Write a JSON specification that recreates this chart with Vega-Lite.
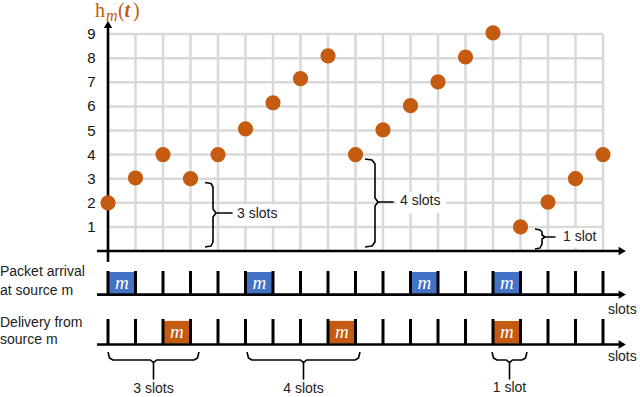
{
  "$schema": "https://vega.github.io/schema/vega-lite/v6.json",
  "width": 640,
  "height": 397,
  "autosize": "none",
  "padding": 0,
  "background": "white",
  "config": {"view": {"stroke": null}},
  "datasets": {
    "slots": [{"x":0},{"x":1},{"x":2},{"x":3},{"x":4},{"x":5},{"x":6},{"x":7},{"x":8},{"x":9},{"x":10},{"x":11},{"x":12},{"x":13},{"x":14},{"x":15},{"x":16},{"x":17},{"x":18}],
    "levels": [{"y":1},{"y":2},{"y":3},{"y":4},{"y":5},{"y":6},{"y":7},{"y":8},{"y":9}]
  },
  "layer": [
    {
      "data": {"name": "slots"},
      "mark": {"type": "rule", "color": "#D9D9D9", "strokeWidth": 2.5},
      "encoding": {
        "x": {"field": "x", "type": "quantitative", "scale": {"domain": [-3.927, 19.345], "nice": false, "zero": false}, "axis": null},
        "y": {"datum": 0, "type": "quantitative", "scale": {"domain": [-6.058, 10.415], "nice": false, "zero": false}, "axis": null},
        "y2": {"datum": 9}
      }
    },
    {
      "data": {"name": "levels"},
      "mark": {"type": "rule", "color": "#D9D9D9", "strokeWidth": 2.5},
      "encoding": {
        "x": {"datum": 0, "type": "quantitative", "scale": {"domain": [-3.927, 19.345], "nice": false, "zero": false}, "axis": null},
        "x2": {"datum": 18},
        "y": {"field": "y", "type": "quantitative", "scale": {"domain": [-6.058, 10.415], "nice": false, "zero": false}, "axis": null}
      }
    },
    {
      "data": {"values": [
        {"x": 4.545, "x2": 6.618, "y": 1.93, "y2": 1.06},
        {"x": 10.473, "x2": 12.29, "y": 2.45, "y2": 1.58},
        {"x": 16.36, "x2": 17.9, "y": 0.95, "y2": 0.15}
      ]},
      "mark": {"type": "rect", "fill": "white"},
      "encoding": {
        "x": {"field": "x", "type": "quantitative", "scale": {"domain": [-3.927, 19.345], "nice": false, "zero": false}, "axis": null},
        "x2": {"field": "x2"},
        "y": {"field": "y", "type": "quantitative", "scale": {"domain": [-6.058, 10.415], "nice": false, "zero": false}, "axis": null},
        "y2": {"field": "y2"}
      }
    },
    {
      "data": {"values": [
        {"id":"a","i":0,"x":3.527,"y":2.842},{"id":"a","i":1,"x":3.745,"y":2.801},{"id":"a","i":2,"x":3.818,"y":2.656},{"id":"a","i":3,"x":3.818,"y":1.743},{"id":"a","i":4,"x":3.927,"y":1.577},{"id":"a","i":5,"x":4.509,"y":1.577},{"id":"a","i":6,"x":3.927,"y":1.577},{"id":"a","i":7,"x":3.818,"y":1.411},{"id":"a","i":8,"x":3.818,"y":0.373},{"id":"a","i":9,"x":3.745,"y":0.207},{"id":"a","i":10,"x":3.527,"y":0.166},
        {"id":"b","i":0,"x":9.345,"y":3.817},{"id":"b","i":1,"x":9.6,"y":3.776},{"id":"b","i":2,"x":9.709,"y":3.61},{"id":"b","i":3,"x":9.709,"y":2.199},{"id":"b","i":4,"x":9.818,"y":2.033},{"id":"b","i":5,"x":10.364,"y":2.033},{"id":"b","i":6,"x":9.818,"y":2.033},{"id":"b","i":7,"x":9.709,"y":1.867},{"id":"b","i":8,"x":9.709,"y":0.373},{"id":"b","i":9,"x":9.6,"y":0.207},{"id":"b","i":10,"x":9.345,"y":0.166},
        {"id":"c","i":0,"x":15.527,"y":0.913},{"id":"c","i":1,"x":15.709,"y":0.871},{"id":"c","i":2,"x":15.782,"y":0.788},{"id":"c","i":3,"x":15.782,"y":0.664},{"id":"c","i":4,"x":15.891,"y":0.581},{"id":"c","i":5,"x":16.255,"y":0.581},{"id":"c","i":6,"x":15.891,"y":0.581},{"id":"c","i":7,"x":15.782,"y":0.498},{"id":"c","i":8,"x":15.782,"y":0.29},{"id":"c","i":9,"x":15.709,"y":0.124},{"id":"c","i":10,"x":15.527,"y":0.083},
        {"id":"d","i":0,"x":0,"y":-4.191},{"id":"d","i":1,"x":0.055,"y":-4.44},{"id":"d","i":2,"x":0.182,"y":-4.523},{"id":"d","i":3,"x":1.545,"y":-4.523},{"id":"d","i":4,"x":1.655,"y":-4.627},{"id":"d","i":5,"x":1.655,"y":-5.311},{"id":"d","i":6,"x":1.655,"y":-4.627},{"id":"d","i":7,"x":1.764,"y":-4.523},{"id":"d","i":8,"x":3.127,"y":-4.523},{"id":"d","i":9,"x":3.255,"y":-4.44},{"id":"d","i":10,"x":3.309,"y":-4.191},
        {"id":"e","i":0,"x":5.055,"y":-4.191},{"id":"e","i":1,"x":5.109,"y":-4.44},{"id":"e","i":2,"x":5.236,"y":-4.523},{"id":"e","i":3,"x":7.0,"y":-4.523},{"id":"e","i":4,"x":7.109,"y":-4.627},{"id":"e","i":5,"x":7.109,"y":-5.311},{"id":"e","i":6,"x":7.109,"y":-4.627},{"id":"e","i":7,"x":7.218,"y":-4.523},{"id":"e","i":8,"x":8.982,"y":-4.523},{"id":"e","i":9,"x":9.109,"y":-4.44},{"id":"e","i":10,"x":9.164,"y":-4.191},
        {"id":"f","i":0,"x":13.964,"y":-4.191},{"id":"f","i":1,"x":14.018,"y":-4.44},{"id":"f","i":2,"x":14.145,"y":-4.523},{"id":"f","i":3,"x":14.491,"y":-4.523},{"id":"f","i":4,"x":14.6,"y":-4.627},{"id":"f","i":5,"x":14.6,"y":-5.311},{"id":"f","i":6,"x":14.6,"y":-4.627},{"id":"f","i":7,"x":14.709,"y":-4.523},{"id":"f","i":8,"x":15.054,"y":-4.523},{"id":"f","i":9,"x":15.182,"y":-4.44},{"id":"f","i":10,"x":15.236,"y":-4.191}
      ]},
      "mark": {"type": "line", "color": "black", "strokeWidth": 1.6, "strokeJoin": "round"},
      "encoding": {
        "x": {"field": "x", "type": "quantitative", "scale": {"domain": [-3.927, 19.345], "nice": false, "zero": false}, "axis": null},
        "y": {"field": "y", "type": "quantitative", "scale": {"domain": [-6.058, 10.415], "nice": false, "zero": false}, "axis": null},
        "detail": {"field": "id"},
        "order": {"field": "i", "type": "quantitative"}
      }
    },
    {
      "data": {"values": [
        {"x": 4.691, "y": 1.535, "label": "3 slots"},
        {"x": 10.618, "y": 2.075, "label": "4 slots"},
        {"x": 16.545, "y": 0.581, "label": "1 slot"}
      ]},
      "mark": {"type": "text", "align": "left", "baseline": "middle", "font": "Liberation Sans", "fontSize": 14, "color": "#222222"},
      "encoding": {
        "x": {"field": "x", "type": "quantitative", "scale": {"domain": [-3.927, 19.345], "nice": false, "zero": false}, "axis": null},
        "y": {"field": "y", "type": "quantitative", "scale": {"domain": [-6.058, 10.415], "nice": false, "zero": false}, "axis": null},
        "text": {"field": "label"}
      }
    },
    {
      "data": {"values": [
        {"x": 1.655, "y": -5.72, "label": "3 slots"},
        {"x": 7.109, "y": -5.72, "label": "4 slots"},
        {"x": 14.6, "y": -5.7, "label": "1 slot"}
      ]},
      "mark": {"type": "text", "align": "center", "baseline": "middle", "font": "Liberation Sans", "fontSize": 14, "color": "#222222"},
      "encoding": {
        "x": {"field": "x", "type": "quantitative", "scale": {"domain": [-3.927, 19.345], "nice": false, "zero": false}, "axis": null},
        "y": {"field": "y", "type": "quantitative", "scale": {"domain": [-6.058, 10.415], "nice": false, "zero": false}, "axis": null},
        "text": {"field": "label"}
      }
    },
    {
      "data": {"values": [
        {"x": 0, "x2": 1},
        {"x": 5, "x2": 6},
        {"x": 11, "x2": 12},
        {"x": 14, "x2": 15}
      ]},
      "mark": {"type": "rect", "fill": "#4472C4"},
      "encoding": {
        "x": {"field": "x", "type": "quantitative", "scale": {"domain": [-3.927, 19.345], "nice": false, "zero": false}, "axis": null},
        "x2": {"field": "x2"},
        "y": {"datum": -0.87, "type": "quantitative", "scale": {"domain": [-6.058, 10.415], "nice": false, "zero": false}, "axis": null},
        "y2": {"datum": -1.77}
      }
    },
    {
      "data": {"values": [
        {"x": 2, "x2": 3},
        {"x": 8, "x2": 9},
        {"x": 14, "x2": 15}
      ]},
      "mark": {"type": "rect", "fill": "#C55A11"},
      "encoding": {
        "x": {"field": "x", "type": "quantitative", "scale": {"domain": [-3.927, 19.345], "nice": false, "zero": false}, "axis": null},
        "x2": {"field": "x2"},
        "y": {"datum": -2.9, "type": "quantitative", "scale": {"domain": [-6.058, 10.415], "nice": false, "zero": false}, "axis": null},
        "y2": {"datum": -3.84}
      }
    },
    {
      "data": {"name": "slots"},
      "mark": {"type": "rule", "color": "black", "strokeWidth": 3},
      "encoding": {
        "x": {"field": "x", "type": "quantitative", "scale": {"domain": [-3.927, 19.345], "nice": false, "zero": false}, "axis": null},
        "y": {"datum": -0.83, "type": "quantitative", "scale": {"domain": [-6.058, 10.415], "nice": false, "zero": false}, "axis": null},
        "y2": {"datum": -1.81}
      }
    },
    {
      "data": {"name": "slots"},
      "mark": {"type": "rule", "color": "black", "strokeWidth": 3},
      "encoding": {
        "x": {"field": "x", "type": "quantitative", "scale": {"domain": [-3.927, 19.345], "nice": false, "zero": false}, "axis": null},
        "y": {"datum": -2.82, "type": "quantitative", "scale": {"domain": [-6.058, 10.415], "nice": false, "zero": false}, "axis": null},
        "y2": {"datum": -3.88}
      }
    },
    {
      "data": {"values": [
        {"x": -0.4, "y": 0, "x2": 18.6, "y2": 0},
        {"x": 0, "y": -0.45, "x2": 0, "y2": 9.3},
        {"x": -0.4, "y": -1.81, "x2": 18.6, "y2": -1.81},
        {"x": -0.4, "y": -3.88, "x2": 18.6, "y2": -3.88}
      ]},
      "mark": {"type": "rule", "color": "black", "strokeWidth": 2.6},
      "encoding": {
        "x": {"field": "x", "type": "quantitative", "scale": {"domain": [-3.927, 19.345], "nice": false, "zero": false}, "axis": null},
        "x2": {"field": "x2"},
        "y": {"field": "y", "type": "quantitative", "scale": {"domain": [-6.058, 10.415], "nice": false, "zero": false}, "axis": null},
        "y2": {"field": "y2"}
      }
    },
    {
      "data": {"values": [{"x": 18.7, "y": 0}, {"x": 18.7, "y": -1.81}, {"x": 18.7, "y": -3.88}]},
      "mark": {"type": "point", "shape": "triangle-right", "filled": true, "color": "black", "opacity": 1, "size": 70},
      "encoding": {
        "x": {"field": "x", "type": "quantitative", "scale": {"domain": [-3.927, 19.345], "nice": false, "zero": false}, "axis": null},
        "y": {"field": "y", "type": "quantitative", "scale": {"domain": [-6.058, 10.415], "nice": false, "zero": false}, "axis": null}
      }
    },
    {
      "data": {"values": [{"x": 0, "y": 9.4}]},
      "mark": {"type": "point", "shape": "triangle-up", "filled": true, "color": "black", "opacity": 1, "size": 70},
      "encoding": {
        "x": {"field": "x", "type": "quantitative", "scale": {"domain": [-3.927, 19.345], "nice": false, "zero": false}, "axis": null},
        "y": {"field": "y", "type": "quantitative", "scale": {"domain": [-6.058, 10.415], "nice": false, "zero": false}, "axis": null}
      }
    },
    {
      "data": {"values": [
        {"x": 0, "y": -1.33}, {"x": 5, "y": -1.33}, {"x": 11, "y": -1.33}, {"x": 14, "y": -1.33},
        {"x": 2, "y": -3.37}, {"x": 8, "y": -3.37}, {"x": 14, "y": -3.37}
      ]},
      "mark": {"type": "text", "text": "m", "dx": 13.75, "align": "center", "baseline": "middle", "font": "Liberation Serif", "fontStyle": "italic", "fontSize": 19, "color": "white"},
      "encoding": {
        "x": {"field": "x", "type": "quantitative", "scale": {"domain": [-3.927, 19.345], "nice": false, "zero": false}, "axis": null},
        "y": {"field": "y", "type": "quantitative", "scale": {"domain": [-6.058, 10.415], "nice": false, "zero": false}, "axis": null}
      }
    },
    {
      "data": {"values": [
        {"x":0,"y":2},{"x":1,"y":3.03},{"x":2,"y":4},{"x":3,"y":3},{"x":4,"y":4},{"x":5,"y":5.07},{"x":6,"y":6.15},{"x":7,"y":7.15},{"x":8,"y":8.1},{"x":9,"y":4},{"x":10,"y":5.03},{"x":11,"y":6.03},{"x":12,"y":7.02},{"x":13,"y":8.05},{"x":14,"y":9.05},{"x":15,"y":1},{"x":16,"y":2.03},{"x":17,"y":3},{"x":18,"y":4}
      ]},
      "mark": {"type": "circle", "color": "#C55A11", "opacity": 1, "size": 230},
      "encoding": {
        "x": {"field": "x", "type": "quantitative", "scale": {"domain": [-3.927, 19.345], "nice": false, "zero": false}, "axis": null},
        "y": {"field": "y", "type": "quantitative", "scale": {"domain": [-6.058, 10.415], "nice": false, "zero": false}, "axis": null}
      }
    },
    {
      "data": {"name": "levels"},
      "mark": {"type": "text", "align": "center", "baseline": "middle", "font": "Liberation Sans", "fontSize": 15, "color": "#111111"},
      "encoding": {
        "x": {"datum": -0.6, "type": "quantitative", "scale": {"domain": [-3.927, 19.345], "nice": false, "zero": false}, "axis": null},
        "y": {"field": "y", "type": "quantitative", "scale": {"domain": [-6.058, 10.415], "nice": false, "zero": false}, "axis": null},
        "text": {"field": "y"}
      }
    },
    {
      "data": {"values": [
        {"x": -3.927, "y": -0.87, "label": "Packet arrival"},
        {"x": -3.927, "y": -1.66, "label": "at source m"},
        {"x": -3.927, "y": -2.99, "label": "Delivery from"},
        {"x": -3.927, "y": -3.69, "label": "source m"},
        {"x": 18.18, "y": -2.45, "label": "slots"},
        {"x": 18.18, "y": -4.4, "label": "slots"}
      ]},
      "mark": {"type": "text", "align": "left", "baseline": "middle", "font": "Liberation Sans", "fontSize": 14, "color": "#222222"},
      "encoding": {
        "x": {"field": "x", "type": "quantitative", "scale": {"domain": [-3.927, 19.345], "nice": false, "zero": false}, "axis": null},
        "y": {"field": "y", "type": "quantitative", "scale": {"domain": [-6.058, 10.415], "nice": false, "zero": false}, "axis": null},
        "text": {"field": "label"}
      }
    },
    {
      "data": {"values": [{"x": -0.473, "y": 9.7, "label": "h"}, {"x": 0.364, "y": 9.7, "label": "("}, {"x": 0.909, "y": 9.7, "label": ")"}]},
      "mark": {"type": "text", "align": "left", "baseline": "alphabetic", "font": "Liberation Serif", "fontSize": 20, "color": "#C55A11"},
      "encoding": {
        "x": {"field": "x", "type": "quantitative", "scale": {"domain": [-3.927, 19.345], "nice": false, "zero": false}, "axis": null},
        "y": {"field": "y", "type": "quantitative", "scale": {"domain": [-6.058, 10.415], "nice": false, "zero": false}, "axis": null},
        "text": {"field": "label"}
      }
    },
    {
      "data": {"values": [{"x": -0.07, "y": 9.55, "label": "m"}]},
      "mark": {"type": "text", "align": "left", "baseline": "alphabetic", "font": "Liberation Serif", "fontStyle": "italic", "fontSize": 16, "color": "#C55A11"},
      "encoding": {
        "x": {"field": "x", "type": "quantitative", "scale": {"domain": [-3.927, 19.345], "nice": false, "zero": false}, "axis": null},
        "y": {"field": "y", "type": "quantitative", "scale": {"domain": [-6.058, 10.415], "nice": false, "zero": false}, "axis": null},
        "text": {"field": "label"}
      }
    },
    {
      "data": {"values": [{"x": 0.6, "y": 9.7, "label": "t"}]},
      "mark": {"type": "text", "align": "left", "baseline": "alphabetic", "font": "Liberation Serif", "fontStyle": "italic", "fontWeight": "bold", "fontSize": 20, "color": "#C55A11"},
      "encoding": {
        "x": {"field": "x", "type": "quantitative", "scale": {"domain": [-3.927, 19.345], "nice": false, "zero": false}, "axis": null},
        "y": {"field": "y", "type": "quantitative", "scale": {"domain": [-6.058, 10.415], "nice": false, "zero": false}, "axis": null},
        "text": {"field": "label"}
      }
    }
  ]
}
